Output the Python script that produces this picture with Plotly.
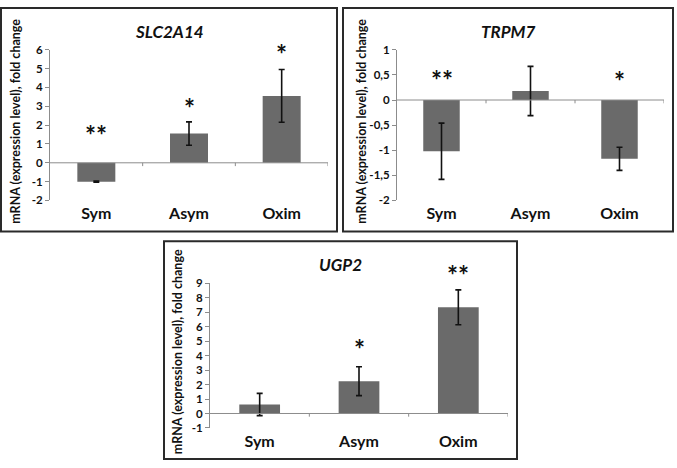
import plotly.graph_objects as go

W, H = 677, 468

categories = ["Sym", "Asym", "Oxim"]

slc_title = "SLC2A14"
slc_values = [-1.0, 1.55, 3.55]
slc_errors = [0.03, 0.62, 1.4]
slc_stars = ["**", "*", "*"]
slc_star_y = [1.7, 3.1, 6.0]
slc_ticks = [-2, -1, 0, 1, 2, 3, 4, 5, 6]
slc_ticklabels = ["-2", "-1", "0", "1", "2", "3", "4", "5", "6"]

trp_title = "TRPM7"
trp_values = [-1.02, 0.18, -1.17]
trp_errors = [0.56, 0.49, 0.23]
trp_stars = ["**", "", "*"]
trp_star_y = [0.48, 0.0, 0.45]
trp_ticks = [-2, -1.5, -1, -0.5, 0, 0.5, 1]
trp_ticklabels = ["-2", "-1,5", "-1", "-0,5", "0", "0,5", "1"]

ugp_title = "UGP2"
ugp_values = [0.62, 2.23, 7.33]
ugp_errors = [0.77, 1.0, 1.2]
ugp_stars = ["", "*", "**"]
ugp_star_y = [0.0, 4.75, 9.8]
ugp_ticks = [-1, 0, 1, 2, 3, 4, 5, 6, 7, 8, 9]
ugp_ticklabels = ["-1", "0", "1", "2", "3", "4", "5", "6", "7", "8", "9"]

ytitle = "mRNA (expression level), fold change"

FONT = "Lato"
BAR = "#6a6a6a"
AXIS = "#8c8c8c"
STAR_SHIFT = 4  # px: Lato asterisk sits high in its line box


def px_x(p):
    return p / W


def px_y(p):
    return 1 - p / H


panels = [
    dict(title=slc_title, vals=slc_values, errs=slc_errors, stars=slc_stars, sy=slc_star_y,
         ticks=slc_ticks, tl=slc_ticklabels, xd=(50, 328), yd=(44, 199), rng=(-2, 6),
         box=(1, 1, 337, 231), ytx=16, ytc=118),
    dict(title=trp_title, vals=trp_values, errs=trp_errors, stars=trp_stars, sy=trp_star_y,
         ticks=trp_ticks, tl=trp_ticklabels, xd=(397, 664), yd=(44, 199), rng=(-2, 1),
         box=(343, 1, 673, 231), ytx=362, ytc=118),
    dict(title=ugp_title, vals=ugp_values, errs=ugp_errors, stars=ugp_stars, sy=ugp_star_y,
         ticks=ugp_ticks, tl=ugp_ticklabels, xd=(210, 508), yd=(284, 433), rng=(-1, 9),
         box=(164, 241, 517, 465), ytx=177, ytc=355),
]

fig = go.Figure()
shapes = []
annotations = []

for i, p in enumerate(panels):
    n = "" if i == 0 else str(i + 1)
    xa, ya = "x" + n, "y" + n
    fig.add_trace(go.Bar(
        x=[0, 1, 2], y=p["vals"], xaxis=xa, yaxis=ya,
        marker=dict(color=BAR, line=dict(width=0)),
        error_y=dict(type="data", array=p["errs"], visible=True,
                     color="#111111", thickness=1.6, width=3),
        showlegend=False, width=0.41,
    ))
    r0, r1 = p["rng"]
    yb, yt = px_y(p["yd"][1]), px_y(p["yd"][0])
    for k, (s, y) in enumerate(zip(p["stars"], p["sy"])):
        if s:
            py = yb + (y - r0) / (r1 - r0) * (yt - yb) - STAR_SHIFT / H
            annotations.append(dict(x=k, y=py, xref=xa, yref="paper", text="<b>" + s + "</b>",
                                    showarrow=False, font=dict(family=FONT, size=26, color="#111"),
                                    xanchor="center", yanchor="middle"))
    # zero line ticks at category boundaries
    for b in [0.5, 1.5, 2.5]:
        shapes.append(dict(type="line", xref=xa, yref=ya, x0=b, x1=b, y0=0,
                           y1=-(r1 - r0) * 0.022,
                           line=dict(color=AXIS, width=1)))
    shapes.append(dict(type="line", xref=xa, yref=ya, x0=-0.5, x1=2.5, y0=0, y1=0,
                       line=dict(color=AXIS, width=1)))
    # panel frame
    bx0, by0, bx1, by1 = p["box"]
    shapes.append(dict(type="rect", xref="paper", yref="paper",
                       x0=px_x(bx0), x1=px_x(bx1), y0=px_y(by1), y1=px_y(by0),
                       line=dict(color="#2a2a2a", width=2), layer="below"))
    # title
    annotations.append(dict(x=(px_x(bx0) + px_x(bx1)) / 2, y=px_y(by0 + 24), xref="paper", yref="paper",
                            text="<b><i>" + p["title"] + "</i></b>", showarrow=False,
                            font=dict(family=FONT, size=17, color="#111"),
                            xanchor="center", yanchor="middle"))
    # y axis title
    annotations.append(dict(x=px_x(p["ytx"]), y=px_y(p["ytc"]),
                            xref="paper", yref="paper", text="<b>" + ytitle + "</b>",
                            showarrow=False, textangle=-90,
                            font=dict(family=FONT, size=12.5, color="#111"),
                            xanchor="center", yanchor="middle"))
    layout_x = dict(domain=[px_x(p["xd"][0]), px_x(p["xd"][1])], anchor=ya,
                    range=[-0.5, 2.5], showline=False, ticks="", showgrid=False,
                    tickvals=[0, 1, 2], ticktext=["<b>" + c + "</b>" for c in categories],
                    zeroline=False, tickfont=dict(family=FONT, size=16, color="#111"),
                    ticklabelstandoff=2, fixedrange=True)
    layout_y = dict(domain=[yb, yt], anchor=xa,
                    range=list(p["rng"]), tickvals=p["ticks"], ticktext=["<b>" + t + "</b>" for t in p["tl"]],
                    showline=True, linecolor=AXIS, linewidth=1, ticks="outside", ticklen=4,
                    tickcolor=AXIS, showgrid=False, zeroline=False,
                    tickfont=dict(family=FONT, size=11.5, color="#111"), fixedrange=True)
    fig.layout["xaxis" + n] = layout_x
    fig.layout["yaxis" + n] = layout_y

fig.update_layout(width=W, height=H, margin=dict(l=0, r=0, t=0, b=0),
                  paper_bgcolor="white", plot_bgcolor="white",
                  shapes=shapes, annotations=annotations, bargap=0.59,
                  font=dict(family=FONT))

fig.write_html("out.html")
